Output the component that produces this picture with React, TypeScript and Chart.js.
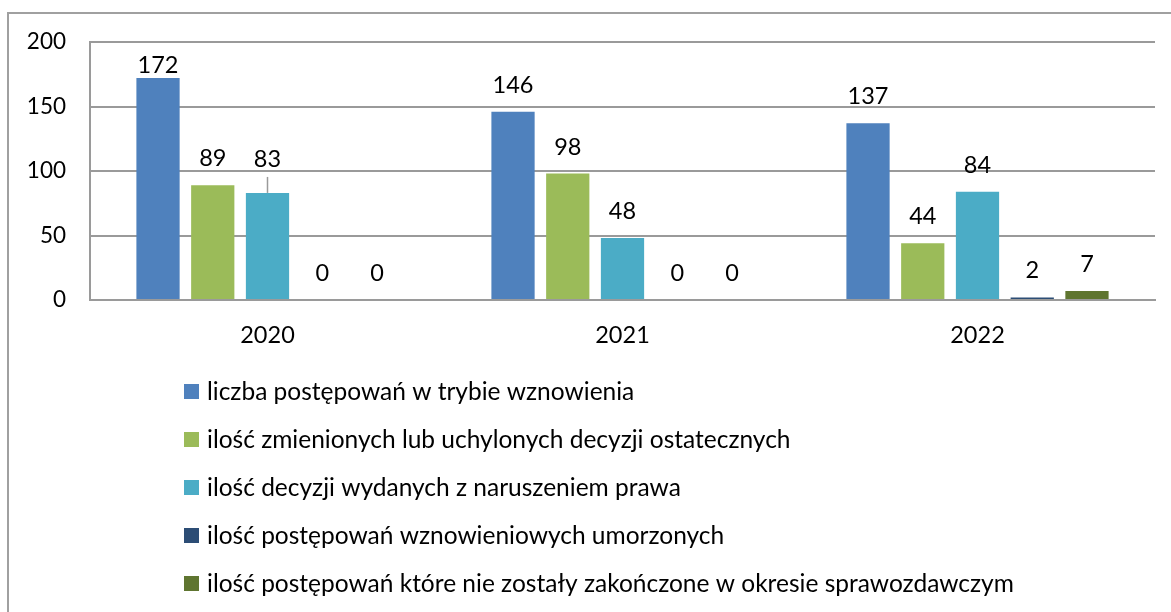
import React, { useEffect, useRef } from 'react';
import { Chart, registerables } from 'chart.js';

Chart.register(...registerables);

const FONT = 'Lato, "Open Sans", sans-serif';

const categories = ['2020', '2021', '2022'];
const seriesNames = [
  'liczba postępowań w trybie wznowienia',
  'ilość zmienionych lub uchylonych decyzji ostatecznych',
  'ilość decyzji wydanych z naruszeniem prawa',
  'ilość postępowań wznowieniowych umorzonych',
  'ilość postępowań które nie zostały zakończone w okresie sprawozdawczym',
];
const wznowienia = [172, 146, 137];
const zmienioneUchylone = [89, 98, 44];
const naruszeniePrawa = [83, 48, 84];
const umorzone = [0, 0, 2];
const niezakonczone = [0, 0, 7];
const seriesValues = [wznowienia, zmienioneUchylone, naruszeniePrawa, umorzone, niezakonczone];
const seriesColors = ['#4F81BD', '#9BBB59', '#4BACC6', '#2C4D75', '#5F7530'];
const yTicks = [0, 50, 100, 150, 200];

const GRID = '#9a9a9a';

// label adjustments (Excel-style manually moved label with leader line)
const labelOverrides = [{ dataset: 2, index: 0, dy: -7, leader: true }];

const valueLabelPlugin = {
  id: 'valueLabels',
  afterDatasetsDraw(chart: any) {
    const ctx = chart.ctx;
    ctx.save();
    ctx.font = `23.5px ${FONT}`;
    ctx.fillStyle = '#000';
    ctx.textAlign = 'center';
    ctx.textBaseline = 'alphabetic';
    chart.data.datasets.forEach((ds: any, di: number) => {
      const meta = chart.getDatasetMeta(di);
      meta.data.forEach((bar: any, i: number) => {
        const v = ds.data[i];
        let y = bar.y - 19;
        y = Math.max(y, chart.chartArea.top + 31);
        const ov = labelOverrides.find((o) => o.dataset === di && o.index === i);
        if (ov) {
          y += ov.dy;
          if (ov.leader) {
            ctx.strokeStyle = GRID;
            ctx.lineWidth = 1.5;
            ctx.beginPath();
            ctx.moveTo(bar.x, bar.y);
            ctx.lineTo(bar.x, y + 10);
            ctx.stroke();
          }
        }
        ctx.fillText(String(v), bar.x, y);
      });
    });
    ctx.restore();
  },
};

const legendPlugin = {
  id: 'verticalLegend',
  afterDraw(chart: any) {
    const ctx = chart.ctx;
    ctx.save();
    ctx.font = `24.5px ${FONT}`;
    ctx.textAlign = 'left';
    ctx.textBaseline = 'middle';
    const startY = chart.chartArea.bottom + 91.5;
    chart.data.datasets.forEach((ds: any, i: number) => {
      const cy = startY + i * 48;
      ctx.fillStyle = ds.backgroundColor;
      ctx.fillRect(184, cy - 7.5, 15, 15);
      ctx.fillStyle = '#000';
      ctx.fillText(ds.label, 207, cy + 1);
    });
    ctx.restore();
  },
};

export default function App() {
  const canvasRef = useRef<HTMLCanvasElement | null>(null);

  useEffect(() => {
    if (!canvasRef.current) return;
    const chart = new Chart(canvasRef.current, {
      type: 'bar',
      data: {
        labels: categories,
        datasets: seriesNames.map((name, i) => ({
          label: name,
          data: seriesValues[i],
          backgroundColor: seriesColors[i],
          borderWidth: 0,
          categoryPercentage: 0.771,
          barPercentage: 0.79,
        })),
      },
      options: {
        responsive: false,
        animation: false,
        layout: { padding: { top: 42, right: 16, bottom: 262, left: 0 } },
        plugins: {
          legend: { display: false },
          tooltip: { enabled: false },
        },
        scales: {
          x: {
            grid: { display: false, drawTicks: false },
            border: { display: true, color: GRID, width: 2 },
            ticks: { color: '#000', font: { family: FONT, size: 23.5 }, padding: 21 },
            afterFit: (s: any) => {
              s.height = 50;
            },
          },
          y: {
            min: yTicks[0],
            max: yTicks[yTicks.length - 1],
            afterBuildTicks: (s: any) => {
              s.ticks = yTicks.map((v) => ({ value: v }));
            },
            grid: { color: GRID, lineWidth: 2, drawTicks: false },
            border: { display: true, color: GRID, width: 2 },
            ticks: { color: '#000', font: { family: FONT, size: 22.5 }, padding: 24 },
            afterFit: (s: any) => {
              s.width = 90;
            },
          },
        },
      },
      plugins: [valueLabelPlugin, legendPlugin],
    });
    return () => chart.destroy();
  }, []);

  return (
    <div style={{ position: 'fixed', left: 0, top: 0, width: 1171, height: 612, overflow: 'hidden', background: '#fff' }}>
      <div
        style={{
          position: 'absolute',
          left: 7,
          top: 12,
          width: 1300,
          height: 800,
          borderLeft: '2px solid #a0a0a0',
          borderTop: '2px solid #a0a0a0',
        }}
      />
      <canvas ref={canvasRef} width={1171} height={612} style={{ position: 'absolute', left: 0, top: 0, display: 'block' }} />
    </div>
  );
}
